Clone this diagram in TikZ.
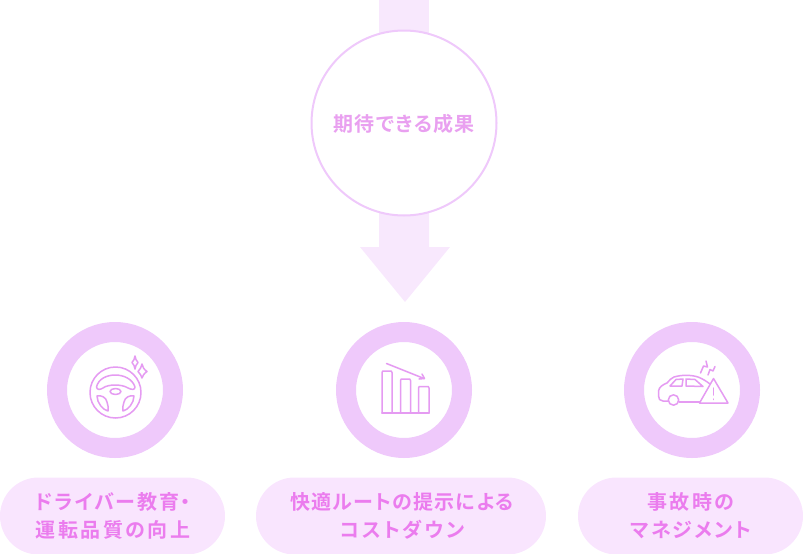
\documentclass[tikz,border=0pt]{standalone}
\usepackage{fontspec}
\newfontfamily\cjk{Noto Sans CJK JP}[BoldFont={Noto Sans CJK JP Bold},RawFeature=+palt,LetterSpace=9.5]
\newfontfamily\cjkS{Noto Sans CJK JP}[BoldFont={Noto Sans CJK JP Bold},RawFeature=+palt,LetterSpace=6.5]
\newfontfamily\cjkL{Noto Sans CJK JP}[BoldFont={Noto Sans CJK JP Bold},RawFeature=+palt,LetterSpace=12.5]
\definecolor{band}{HTML}{F8E8FD}
\definecolor{ringc}{HTML}{EFC9FB}
\definecolor{pillc}{HTML}{F9E5FE}
\definecolor{labelc}{HTML}{EB7CEE}
\definecolor{titlec}{HTML}{E9A0F0}
\definecolor{iconc}{HTML}{E59BF2}
\tikzset{
  x=1pt,y=-1pt,
  ringnode/.style={circle,draw=ringc,line width=20pt,fill=white,minimum size=116pt,inner sep=0pt},
  pill/.style={rounded corners=38.5pt,fill=pillc},
  lab/.style={text=labelc,font=\cjk\fontsize{20}{28}\selectfont\bfseries,align=center,inner sep=0pt},
  icon/.style={draw=iconc,line width=1.5pt,line join=round,line cap=round,fill=none}
}
\begin{document}
\begin{tikzpicture}
\useasboundingbox (0,0) rectangle (803,554);
% arrow
\fill[band] (379,0) rectangle (429,40);
\fill[band] (379,200) -- (429,200) -- (429,247) -- (450,247) -- (405,302) -- (360,247) -- (379,247) -- cycle;
\node[circle,draw=ringc,line width=2pt,fill=white,minimum size=185pt,inner sep=0pt] (goal) at (404,123) {};
\node[text=titlec,font=\cjkS\fontsize{20}{24}\selectfont\bfseries,inner sep=0pt] (goaltext) at (404,123.5) {期待できる成果};
% rings
\node[ringnode] (r1) at (115,390) {};
\node[ringnode] (r2) at (404,390) {};
\node[ringnode] (r3) at (692,390) {};
% pills
\fill[pill] (0,477.5) rectangle (225,554.5);
\fill[pill] (256,477.5) rectangle (546,554.5);
\fill[pill] (578,477.5) rectangle (803,554.5);
\node[lab] (l1) at (113,516) {ドライバー教育・\\{\cjkL 運転品質の向上}};
\node[lab] (l2) at (402,516) {{\cjkS 快適ルートの提示による}\\{\cjkL コストダウン}};
\node[lab] (l3) at (691,516) {{\cjkL 事故時の}\\マネジメント};
% steering wheel
\begin{scope}[icon]
\draw (115.5,392.5) circle (25.5);
\draw (96.5,387) .. controls (100,371) and (130,371) .. (135,387)
  .. controls (135,390) and (132,390) .. (128,388)
  .. controls (122,384) and (108,384) .. (103,388)
  .. controls (100,390) and (97,390) .. (96.5,387) -- cycle;
\draw (115.5,391.5) ellipse (5.5 and 3);
\draw (97,396) .. controls (101,395) and (106,397) .. (107,402)
  .. controls (108,406) and (109,409) .. (108,411)
  .. controls (103,410) and (97,403) .. (97,396) -- cycle;
\draw (134,396) .. controls (130,395) and (125,397) .. (124,402)
  .. controls (123,406) and (122,409) .. (123,411)
  .. controls (128,410) and (134,403) .. (134,396) -- cycle;
\draw (135,356) .. controls (135.5,359) and (136,360) .. (138,362.5) .. controls (136,365) and (135.5,366) .. (135,369) .. controls (134.5,366) and (134,365) .. (132,362.5) .. controls (134,360) and (134.5,359) .. (135,356) -- cycle;
\draw (142,364) .. controls (142.5,367) and (144,369.5) .. (147,371.5) .. controls (144,373.5) and (142.5,376) .. (142,378) .. controls (141.5,376) and (140,373.5) .. (138,371.5) .. controls (140,369.5) and (141.5,367) .. (142,364) -- cycle;
\end{scope}
% bar chart
\begin{scope}[icon]
\draw (382,413) -- (382,372.5) .. controls (382,371) and (383,371) .. (384,371) -- (390,371) .. controls (391,371) and (392,371) .. (392,372.5) -- (392,413);
\draw (400.5,413) -- (400.5,380.5) .. controls (400.5,379) and (401.5,379) .. (402.5,379) -- (408.5,379) .. controls (409.5,379) and (410.5,379) .. (410.5,380.5) -- (410.5,413);
\draw (418.5,413) -- (418.5,388) .. controls (418.5,386.5) and (419.5,386.5) .. (420.5,386.5) -- (427,386.5) .. controls (428,386.5) and (429,386.5) .. (429,388) -- (429,413);
\draw (382,413) -- (429,413);
\draw (386.5,363.5) -- (424,378.5);
\draw (419,379) -- (424.5,378.5) -- (422,374);
\end{scope}
% car with warning
\begin{scope}[icon]
\draw (668,401) -- (663,401) .. controls (660,401) and (658.5,399) .. (658.5,396) -- (658.5,391)
  .. controls (659,387) and (663,384.5) .. (667,383)
  .. controls (670,380) and (671,378) .. (674,377)
  .. controls (682,374.5) and (692,375) .. (698,377)
  .. controls (703,379) and (706,381) .. (710,384);
\draw (679,402) -- (700,402);
\draw (673.5,400) circle (5.2);
\draw (670,386) -- (676,379.5) -- (683,379) -- (682,386) -- cycle;
\draw (686,386) -- (686,379) -- (695,379.5) -- (703,386.5) -- cycle;
\draw (699.5,403) -- (713.5,378.5) -- (728,403) -- cycle;
\draw (713.5,388) -- (713.5,395);
\draw (713.5,399) -- (713.5,399.5);
\draw (700.5,373) -- (703.5,366) -- (707.5,367) -- (706,361);
\draw (708,375) -- (710,369.5) -- (713,371) -- (715,366.5);
\end{scope}
\end{tikzpicture}
\end{document}
